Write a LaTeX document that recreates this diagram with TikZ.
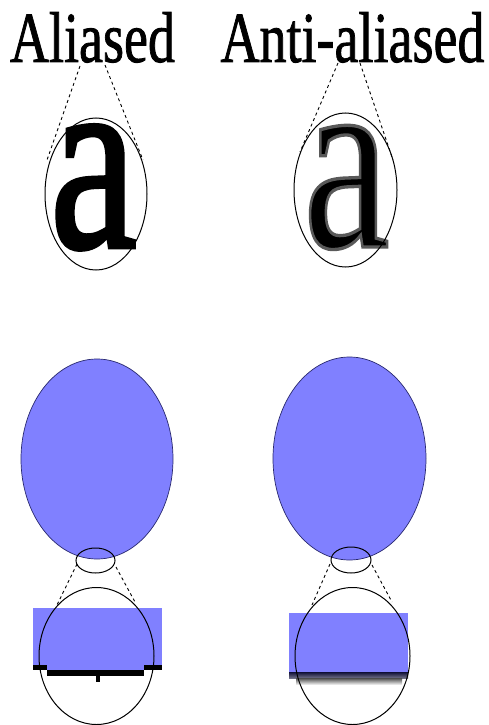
\documentclass[tikz,border=0pt]{standalone}
\usepackage{fontspec}
\setmainfont{Liberation Serif}
\usetikzlibrary{shapes.geometric}
\definecolor{lblue}{RGB}{128,128,255}
\definecolor{blobline}{RGB}{40,40,110}
\definecolor{navy}{RGB}{15,15,55}
% fill + stroke text (width, stroke gray level)
\newcommand\strokedtext[3]{\special{pdf:literal direct 2 Tr #1 w #2 G}#3\special{pdf:literal direct 0 Tr 0.4 w 0 G}}
\tikzset{
  title/.style={anchor=base, inner sep=0pt, font=\fontsize{54}{60}\selectfont},
  lens/.style={ellipse, draw=black, line width=1pt, inner sep=0pt},
  blob/.style={ellipse, draw=blobline, fill=lblue, line width=0.7pt, inner sep=0pt},
  zoomline/.style={line width=0.9pt, dash pattern=on 3pt off 3pt},
  biga/.style={anchor=base, inner sep=0pt, font=\fontsize{195}{200}\selectfont},
}
\begin{document}
\begin{tikzpicture}[x=1pt,y=-1pt]
\useasboundingbox (0,0) rectangle (489,725);
% titles
\node[title] (tA) at (92.5,62) {\scalebox{1}[1.33]{\strokedtext{0.7}{0}{Aliased}}};
\node[title] (tB) at (352.5,62) {\scalebox{1}[1.33]{\strokedtext{0.7}{0}{Anti-aliased}}};
% big letters
\node[biga] (aA) at (93.5,247) {\scalebox{1}[1.33]{\strokedtext{3.5}{0}{a}}};
\node[biga] (aB) at (346.5,247) {\scalebox{1}[1.33]{\strokedtext{2.5}{0.35}{a}}};
% lenses top
\node[lens, minimum width=102pt, minimum height=152pt] (lensA) at (96,194) {};
\node[lens, minimum width=103pt, minimum height=154pt] (lensB) at (345.5,190) {};
% top zoom lines
\coordinate (pA1) at (80,66);  \coordinate (qA1) at (47,160);
\coordinate (pA2) at (105,65); \coordinate (qA2) at (143,160);
\coordinate (pB1) at (338,63); \coordinate (qB1) at (300,152);
\coordinate (pB2) at (360,63); \coordinate (qB2) at (393,160);
\draw[zoomline] (pA1) -- (qA1);
\draw[zoomline] (pA2) -- (qA2);
\draw[zoomline] (pB1) -- (qB1);
\draw[zoomline] (pB2) -- (qB2);
% blue blobs
\node[blob, minimum width=152pt, minimum height=200pt] (blobA) at (97,459) {};
\node[blob, minimum width=153pt, minimum height=203pt] (blobB) at (349.5,458.5) {};
% small lenses
\node[lens, minimum width=39pt, minimum height=25pt] (sA) at (95.5,560.5) {};
\node[lens, minimum width=40pt, minimum height=26pt] (sB) at (351,560) {};
% blue rectangles and edges
\fill[lblue] (33,608) rectangle (162,670);
\fill[black] (33,665) rectangle (47,670);
\fill[black] (144,665) rectangle (162,670);
\fill[black] (47,670) rectangle (144,676);
\fill[black] (95.5,676) rectangle (100,682);
\fill[lblue] (289,613) rectangle (408,673);
\shade[top color=navy, bottom color=navy!60!white] (289,672) rectangle (408,678);
\shade[top color=black!70, bottom color=white] (296,678) rectangle (402,685);
% bottom lenses
\node[lens, minimum width=115pt, minimum height=137pt] (bA) at (96.5,656) {};
\node[lens, minimum width=115pt, minimum height=137pt] (bB) at (352.5,656) {};
% bottom zoom lines
\coordinate (uA1) at (77,564);  \coordinate (vA1) at (57,605);
\coordinate (uA2) at (116,567); \coordinate (vA2) at (135,602);
\coordinate (uB1) at (330,564); \coordinate (vB1) at (312,605);
\coordinate (uB2) at (372,565); \coordinate (vB2) at (392,602);
\draw[zoomline] (uA1) -- (vA1);
\draw[zoomline] (uA2) -- (vA2);
\draw[zoomline] (uB1) -- (vB1);
\draw[zoomline] (uB2) -- (vB2);
\end{tikzpicture}
\end{document}
